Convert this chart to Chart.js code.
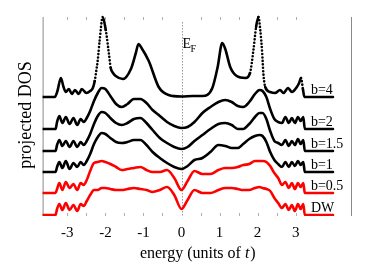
<!DOCTYPE html>
<html>
<head>
<meta charset="utf-8">
<script src="https://cdn.jsdelivr.net/npm/chart.js@4.4.1/dist/chart.umd.min.js"></script>
<style>
    html, body { margin: 0; padding: 0; background: #fff; }
</style>
</head>
<body>
<canvas id="myChart" width="374" height="262"></canvas>
<script>
// energy in units of t, DOS heights above each curve's own baseline
const energyB4 = [-3.65, -3.33, -3.26, -3.17, -3.1, -3.04, -2.96, -2.88, -2.8, -2.7, -2.62, -2.5, -2.4, -2.33, -2.28, -2.24, -2.2, -2.15, -2.07, -1.99, -1.91, -1.86, -1.8, -1.73, -1.54, -1.33, -1.2, -1.13, -1.05, -0.86, -0.6, -0.34, 0, 0.3, 0.55, 0.81, 0.95, 1.07, 1.15, 1.28, 1.45, 1.68, 1.8, 1.89, 1.96, 2.02, 2.07, 2.12, 2.15, 2.2, 2.33, 2.46, 2.59, 2.68, 2.8, 2.9, 3.03, 3.09, 3.14, 3.19, 3.23, 3.98]
const dosB4 = [0, 0, 6, 19, 10, 5, 8, 3, 7, 3, 8, 4, 6, 9, 16, 26, 37, 57, 80, 67, 44, 29, 24, 21, 18, 28, 44, 53, 49, 36, 10, 2, 0.5, 1, 1, 9, 30, 54, 48, 30, 21, 19, 24, 47, 70, 80, 67, 44, 24, 10, 5, 4, 7, 4, 9, 5, 10, 14, 19, 8, 0, 0]

// the other five curves share one energy grid
const energy = [-3.65, -3.31, -3.27, -3.21, -3.13, -3.04, -2.94, -2.84, -2.74, -2.65, -2.57, -2.49, -2.4, -2.3, -2.2, -2.1, -2.0, -1.87, -1.72, -1.57, -1.42, -1.25, -1.08, -0.92, -0.76, -0.57, -0.38, -0.19, 0, 0.16, 0.34, 0.55, 0.76, 0.97, 1.15, 1.32, 1.48, 1.62, 1.78, 1.93, 2.05, 2.13, 2.23, 2.33, 2.44, 2.54, 2.64, 2.73, 2.82, 2.9, 2.98, 3.06, 3.13, 3.2, 3.24, 3.98]
const dosB2 = [0, 0, 7, 13, 6, 12, 5, 11, 4, 10, 7, 11, 18, 28, 36, 41, 40, 33, 25, 22, 25, 30, 30, 26, 19, 13, 7, 3, 1, 2, 7, 16, 22, 27, 29, 27, 23, 22, 27, 35, 39, 38, 32, 20, 10, 7, 6, 12, 6, 11, 6, 12, 8, 12, 0, 0]
const dosB15 = [0, 0, 6, 11, 5, 10, 4, 10, 4, 9, 6, 10, 17, 27, 35, 39, 38, 33, 28, 26, 28, 32, 33, 28, 21, 13, 8, 4, 2, 4, 10, 16, 22, 27, 28, 26, 22, 22, 27, 34, 38, 38, 32, 20, 10, 8, 6, 11, 5, 10, 6, 12, 7, 11, 0, 0]
const dosB1 = [0, 0, 5, 10, 4, 11, 3, 9, 5, 10, 7, 11, 18, 28, 35, 39, 38, 34, 30, 29, 30, 32, 32, 27, 20, 14, 9, 5, 3, 6, 12, 14, 20, 27, 26, 24, 24, 28, 33, 36, 37, 36, 30, 20, 12, 8, 5, 10, 5, 10, 6, 11, 7, 10, 0, 0]
const dosB05 = [0, 0, 4, 10, 3, 11, 5, 9, 3, 10, 8, 13, 22, 30, 31, 32, 31, 29, 26, 23, 24, 25, 26, 23, 21, 21, 23, 15, 3, 12, 22, 19, 19, 23, 25, 25, 26, 28, 29, 32, 32, 32, 31, 27, 20, 15, 8, 11, 5, 10, 4, 10, 6, 10, 0, 0]
const dosDW = [0, 0, 6, 11, 5, 12, 5, 10, 4, 11, 9, 14, 20, 25, 25, 27, 27, 26, 25, 25, 26, 27, 26, 25, 23, 25, 28, 20, 6, 15, 25, 22, 22, 25, 27, 27, 26, 25, 25, 27, 28, 27, 26, 24, 17, 12, 7, 11, 5, 10, 4, 11, 6, 11, 0, 0]

const curveNames = ['b=4', 'b=2', 'b=1.5', 'b=1', 'b=0.5', 'DW']
const curveOffsets = [119, 87, 65, 44, 23, 1]
const curveEnergies = [energyB4, energy, energy, energy, energy, energy]
const curveDos = [dosB4, dosB2, dosB15, dosB1, dosB05, dosDW]

const xTickValues = [-3, -2, -1, 0, 1, 2, 3]
const minorTickValues = [-3, -2.5, -2, -1.5, -1, -0.5, 0.5, 1, 1.5, 2, 2.5, 3]

const serif = 'Liberation Serif, Times New Roman, serif'

// only the very steep parts of the b=4 curve come out as dots in the original
const dotted = (ctx) => {
    const dx = Math.abs(ctx.p1.x - ctx.p0.x)
    const dy = Math.abs(ctx.p1.y - ctx.p0.y)
    return (dy > 8 && dy > 5.5 * dx) ? [0, 3.4] : undefined
}

const datasets = curveNames.map((name, i) => ({
    label: name,
    data: curveEnergies[i].map((e, k) => ({ x: e, y: curveOffsets[i] + curveDos[i][k] })),
    borderColor: i >= 4 ? '#ff0000' : '#000000',
    borderWidth: 2.6,
    borderCapStyle: 'round',
    borderJoinStyle: 'round',
    pointRadius: 0,
    fill: false,
    cubicInterpolationMode: 'monotone',
    segment: i === 0 ? { borderDash: dotted } : {}
}))

const decorations = {
    id: 'decorations',
    beforeDatasetsDraw(chart) {
        const { ctx, chartArea, scales } = chart
        const x = scales.x
        ctx.save()
        // side frame lines
        ctx.strokeStyle = '#8a8a8a'
        ctx.lineWidth = 1
        ctx.beginPath()
        ctx.moveTo(chartArea.left + 0.5, chartArea.top + 3)
        ctx.lineTo(chartArea.left + 0.5, chartArea.bottom)
        ctx.moveTo(chartArea.right - 0.5, chartArea.top + 3)
        ctx.lineTo(chartArea.right - 0.5, chartArea.bottom)
        ctx.stroke()
        // small inward ticks top and bottom
        ctx.strokeStyle = '#b0b0b0'
        ctx.beginPath()
        minorTickValues.forEach(v => {
            const px = Math.round(x.getPixelForValue(v)) + 0.5
            ctx.moveTo(px, chartArea.top + 3)
            ctx.lineTo(px, chartArea.top + 6)
            ctx.moveTo(px, chartArea.bottom)
            ctx.lineTo(px, chartArea.bottom - 3)
        })
        ctx.stroke()
        // Fermi level
        const x0 = Math.round(x.getPixelForValue(0)) + 0.5
        ctx.strokeStyle = '#9a9a9a'
        ctx.setLineDash([1.5, 1.5])
        ctx.beginPath()
        ctx.moveTo(x0, chartArea.top + 8)
        ctx.lineTo(x0, chartArea.bottom)
        ctx.stroke()
        ctx.restore()
    },
    afterDraw(chart) {
        const { ctx, chartArea, scales } = chart
        const x = scales.x
        const y = scales.y
        ctx.save()
        ctx.fillStyle = '#000'
        ctx.textBaseline = 'alphabetic'
        ctx.textAlign = 'left'

        // E_F
        const xf = x.getPixelForValue(0) + 1
        ctx.font = '14px ' + serif
        ctx.fillText('E', xf, 48)
        const wE = ctx.measureText('E').width
        ctx.font = '10px ' + serif
        ctx.fillText('F', xf + wE - 0.5, 52)

        // curve names
        ctx.font = '14px ' + serif
        curveNames.forEach((name, i) => {
            ctx.fillText(name, x.getPixelForValue(3.4), y.getPixelForValue(curveOffsets[i]) - 3)
        })

        // axis title with italic t
        const part1 = 'energy (units of '
        const part2 = 't'
        const part3 = ')'
        ctx.font = '16px ' + serif
        const w1 = ctx.measureText(part1).width
        const w3 = ctx.measureText(part3).width
        ctx.font = 'italic 16px ' + serif
        const w2 = ctx.measureText(part2).width
        let tx = (chartArea.left + chartArea.right) / 2 - (w1 + w2 + w3) / 2
        const ty = 258
        ctx.font = '16px ' + serif
        ctx.fillText(part1, tx, ty)
        tx += w1
        ctx.font = 'italic 16px ' + serif
        ctx.fillText(part2, tx, ty)
        tx += w2 + 1
        ctx.font = '16px ' + serif
        ctx.fillText(part3, tx, ty)
        ctx.restore()
    }
}

const config = {
    type: 'line',
    data: { datasets: datasets },
    options: {
        responsive: false,
        animation: false,
        devicePixelRatio: 1,
        layout: { padding: { left: 15, right: 22, top: 14, bottom: 12 } },
        plugins: {
            legend: { display: false },
            tooltip: { enabled: false }
        },
        scales: {
            x: {
                type: 'linear',
                min: -3.65,
                max: 4.48,
                afterBuildTicks: (axis) => {
                    axis.ticks = xTickValues.map(v => ({ value: v }))
                },
                grid: { display: false, drawTicks: false },
                border: { display: false },
                ticks: {
                    font: { family: serif, size: 15 },
                    color: '#000',
                    padding: 8,
                    maxRotation: 0,
                    callback: (v) => String(v)
                }
            },
            y: {
                type: 'linear',
                min: 0,
                max: 202,
                grid: { display: false, drawTicks: false },
                border: { display: false },
                ticks: { display: false },
                title: {
                    display: true,
                    text: 'projected DOS',
                    font: { family: serif, size: 18 },
                    color: '#000',
                    padding: { top: 0, bottom: 6 }
                }
            }
        }
    },
    plugins: [decorations]
}

const myChart = new Chart(document.getElementById('myChart').getContext('2d'), config)
</script>
</body>
</html>
